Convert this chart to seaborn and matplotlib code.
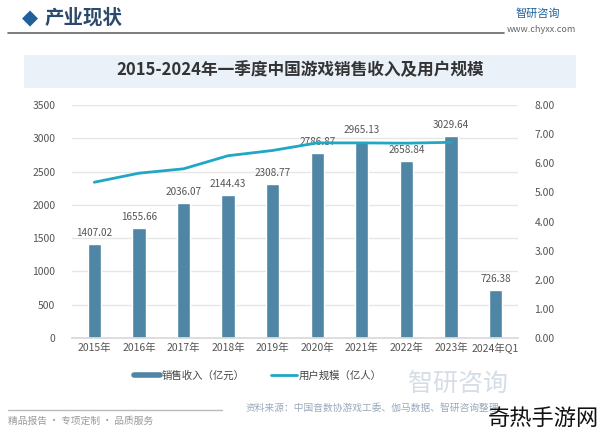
import numpy as np
import pandas as pd
import matplotlib
matplotlib.use('Agg')
import matplotlib.pyplot as plt
import seaborn as sns
from matplotlib.patches import Rectangle
from matplotlib.lines import Line2D

# 数据
years = ['2015年', '2016年', '2017年', '2018年', '2019年', '2020年',
         '2021年', '2022年', '2023年', '2024年Q1']
revenue = [1407.02, 1655.66, 2036.07, 2144.43, 2308.77, 2786.87,
           2965.13, 2658.84, 3029.64, 726.38]
users = [5.35, 5.66, 5.81, 6.26, 6.44, 6.70, 6.70, 6.69, 6.72]

sns.set_theme(style='white')
plt.rcParams['font.family'] = ['Noto Sans CJK SC', 'DejaVu Sans']

bar_color = '#4f86a6'
line_color = '#1fa7c4'
tick_color = '#555555'

fig = plt.figure(figsize=(6, 4.34), dpi=100)
fig.patch.set_facecolor('white')

# 头部
fig.text(0.037, 0.958, '◆', color='#1f5f9a', fontsize=15, va='center', ha='left',
         family=['DejaVu Sans'])
fig.text(0.075, 0.958, '产业现状', color='#2b4a6b', fontsize=14, va='center', ha='left',
         fontweight='bold')
fig.add_artist(Line2D([0.013, 0.84], [0.923, 0.923], color='#666666', lw=1.2))
fig.text(0.86, 0.968, '智研咨询', color='#1f5f9a', fontsize=8, va='center', ha='left')
fig.text(0.845, 0.932, 'www.chyxx.com', color='#666666', fontsize=6.5, va='center', ha='left')

# 标题框
fig.add_artist(Rectangle((0.04, 0.797), 0.92, 0.077, facecolor='#eaf1f8',
                         edgecolor='none', transform=fig.transFigure))
fig.text(0.5, 0.838, '2015-2024年一季度中国游戏销售收入及用户规模', color='#333333',
         fontsize=12, fontweight='bold', ha='center', va='center')

ax = fig.add_axes([0.12, 0.221, 0.743, 0.537])
df = pd.DataFrame({'year': years, 'revenue': revenue})
sns.barplot(data=df, x='year', y='revenue', color=bar_color, width=0.3,
            saturation=1, ax=ax, zorder=2)
ax.set_ylim(0, 3500)
ax.set_yticks(np.arange(0, 3501, 500))
ax.set_xlim(-0.5, 9.5)
ax.grid(axis='y', color='#e6e6e6', lw=1, zorder=0)
ax.set_axisbelow(True)
for s in ['top', 'right', 'left']:
    ax.spines[s].set_visible(False)
ax.spines['bottom'].set_color('#d9d9d9')
ax.set_xlabel('')
ax.set_ylabel('')
ax.tick_params(axis='both', colors=tick_color, labelsize=7.5, length=0)
ax.tick_params(axis='y', pad=12)

for i, v in enumerate(revenue):
    ax.text(i, v + 90, f'{v:.2f}', ha='center', va='bottom', fontsize=7.2, color='#555555')

ax2 = ax.twinx()
sns.lineplot(x=np.arange(len(users)), y=users, color=line_color, lw=2, ax=ax2)
ax2.set_ylim(0, 8)
ax2.set_yticks(np.arange(0, 8.1, 1))
ax2.set_yticklabels([f'{t:.2f}' for t in np.arange(0, 8.1, 1)])
for s in ['top', 'right', 'left', 'bottom']:
    ax2.spines[s].set_visible(False)
ax2.tick_params(axis='y', colors=tick_color, labelsize=7.5, length=0, pad=12)
ax2.grid(False)

handles = [Line2D([0], [0], color=bar_color, lw=4),
           Line2D([0], [0], color=line_color, lw=2)]
fig.legend(handles, ['销售收入（亿元）', '用户规模（亿人）'], loc='center',
           bbox_to_anchor=(0.43, 0.135), ncol=2, frameon=False, fontsize=7.5,
           labelcolor='#444444', handlelength=2.5, columnspacing=2.5, handletextpad=0.2)

# 底部
fig.add_artist(Line2D([0.013, 0.37], [0.055, 0.055], color='#bbbbbb', lw=1))
fig.text(0.013, 0.03, '精品报告 · 专项定制 · 品质服务', color='#999999', fontsize=7,
         va='center', ha='left')
fig.text(0.41, 0.06, '资料来源：中国音数协游戏工委、伽马数据、智研咨询整理', color='#9aaabb',
         fontsize=7, va='center', ha='left')
fig.text(0.68, 0.115, '智研咨询', color='#d5dde6', fontsize=18, va='center', ha='left')
fig.text(0.998, 0.035, '奇热手游网', color='#111111', fontsize=16, va='center', ha='right')

fig.savefig('out.png', dpi=100, facecolor='white')
